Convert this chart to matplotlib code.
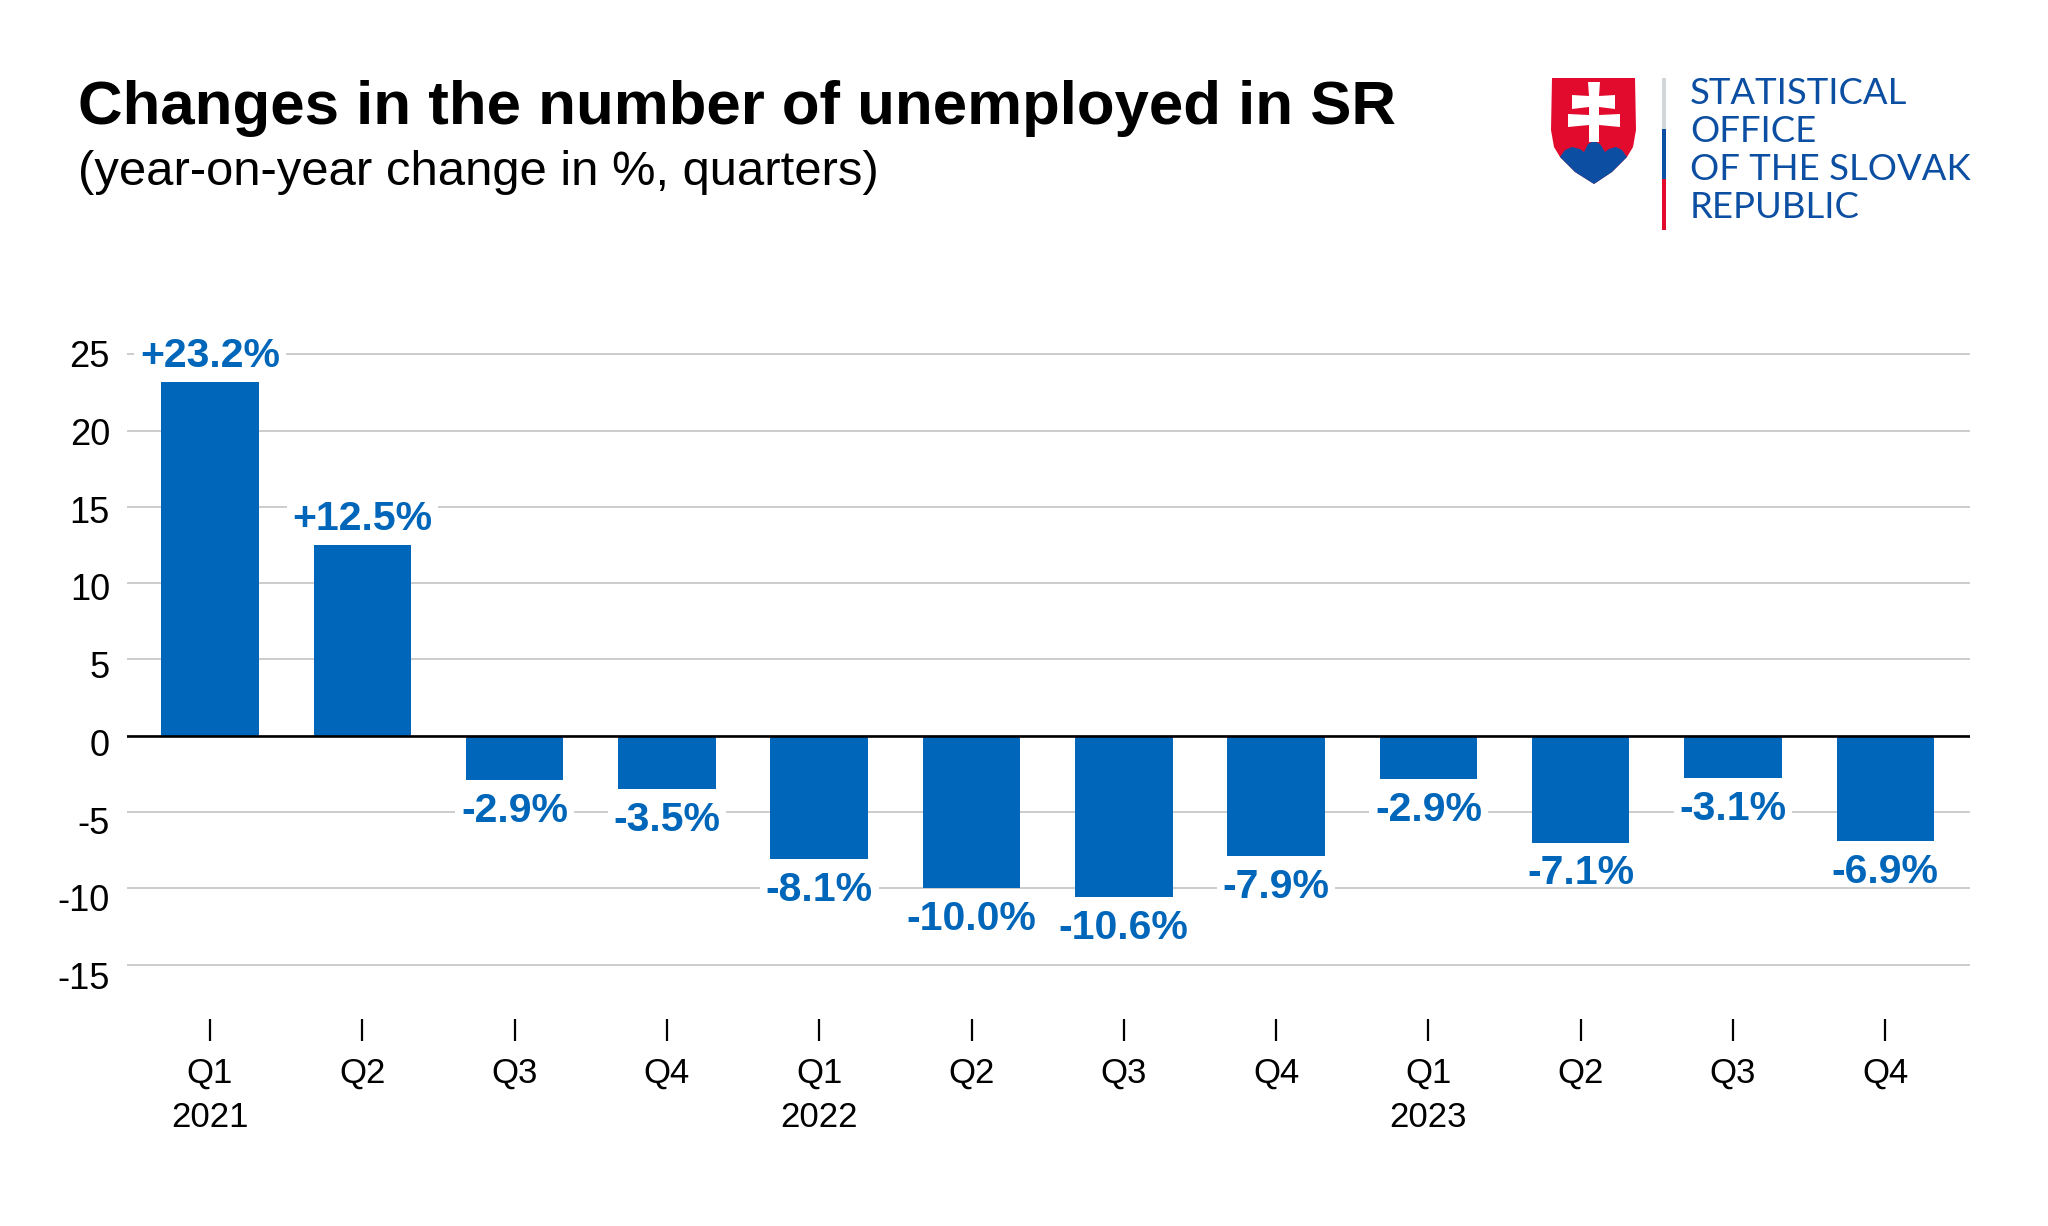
"""Changes in the number of unemployed in SR, quarterly bars with the office logo."""

import matplotlib

matplotlib.use("Agg")
import matplotlib.pyplot as plt
from matplotlib.patches import Polygon, Rectangle
from matplotlib.transforms import Affine2D

plt.rcParams["font.family"] = ["Liberation Sans", "DejaVu Sans"]
plt.rcParams["axes.unicode_minus"] = False

QUARTER_LABELS = [
    "Q1\n2021", "Q2", "Q3", "Q4",
    "Q1\n2022", "Q2", "Q3", "Q4",
    "Q1\n2023", "Q2", "Q3", "Q4",
]
# Bar lengths as drawn; the -3.1% and -7.1% bars stop a little short of their labels.
CHANGES = [23.2, 12.5, -2.9, -3.5, -8.1, -10.0, -10.6, -7.9, -2.85, -7.0, -2.8, -6.9]
VALUE_LABELS = [
    "+23.2%", "+12.5%", "-2.9%", "-3.5%", "-8.1%", "-10.0%",
    "-10.6%", "-7.9%", "-2.9%", "-7.1%", "-3.1%", "-6.9%",
]
Y_TICKS = [25, 20, 15, 10, 5, 0, -5, -10, -15]
LOGO_LINES = ["STATISTICAL", "OFFICE", "OF THE SLOVAK", "REPUBLIC"]

WIDTH, HEIGHT = 2048, 1226
BAR_BLUE = "#0066b9"
LOGO_BLUE = "#0b4ea2"
LOGO_RED = "#e30b2d"

figure = plt.figure(figsize=(WIDTH / 100, HEIGHT / 100), dpi=100)

# Plot area in pixels: gridlines span 127-1970, ticks start just under -18.5.
PX_PER_UNIT = 15.26
ZERO_Y = 735.7
TOP_Y = 340
BOTTOM_Y = 1019
ax = figure.add_axes([
    127.3 / WIDTH,
    1 - BOTTOM_Y / HEIGHT,
    (1970 - 127.3) / WIDTH,
    (BOTTOM_Y - TOP_Y) / HEIGHT,
])
ax.set_xlim(-0.543, 11.556)
ax.set_ylim((ZERO_Y - BOTTOM_Y) / PX_PER_UNIT, (ZERO_Y - TOP_Y) / PX_PER_UNIT)

positions = list(range(len(CHANGES)))
ax.bar(positions, CHANGES, width=0.64, color=BAR_BLUE, zorder=2)
ax.axhline(0, color="black", linewidth=1.9, zorder=3)

ax.set_yticks(Y_TICKS)
ax.grid(True, axis="y", color="#c4c4c4", linewidth=1.2, zorder=1)
ax.set_axisbelow(True)
ax.set_xticks(positions)
ax.set_xticklabels(QUARTER_LABELS, linespacing=1.44)
ax.tick_params(axis="x", length=15.6, width=1.6, color="black", pad=11.5, labelsize=25)
ax.tick_params(axis="y", length=0, pad=12.5, labelsize=26)
for spine in ax.spines.values():
    spine.set_visible(False)

# The y labels in the reference drift slowly below their gridlines.
for value, label in zip(Y_TICKS, ax.get_yticklabels()):
    drift = 0.4 - (25 - value) * 0.28
    label.set_transform(label.get_transform() + Affine2D().translate(0, drift))

for position, value, text in zip(positions, CHANGES, VALUE_LABELS):
    offset = 18.5 if value > 0 else -22
    label = ax.annotate(
        text,
        (position, value),
        xytext=(0, offset),
        textcoords="offset points",
        ha="center",
        va="center",
        fontsize=29.5,
        fontweight="bold",
        color=BAR_BLUE,
        zorder=4,
    )
    # Only labels sitting on a gridline get a white mask behind them.
    centre = value + offset / 0.72 / PX_PER_UNIT
    if min(abs(centre - tick) for tick in Y_TICKS) < 0.85:
        label.set_bbox({"facecolor": "white", "edgecolor": "none", "pad": 4})

figure.text(78 / WIDTH, 1 - 124 / HEIGHT, "Changes in the number of unemployed in SR",
            fontsize=44.5, fontweight="bold", color="black", va="baseline")
figure.text(78 / WIDTH, 1 - 185 / HEIGHT, "(year-on-year change in %, quarters)",
            fontsize=35.3, color="black", va="baseline")

# Logo layer, in pixel coordinates of the reference.
logo = figure.add_axes([0, 0, 1, 1], facecolor="none")
logo.set_xlim(0, WIDTH)
logo.set_ylim(HEIGHT, 0)
logo.axis("off")

shield = [(1552, 78), (1635, 78), (1636, 130), (1633, 147), (1627, 157), (1612, 172),
          (1594, 184), (1575, 172), (1560, 157), (1554, 147), (1551, 130)]
hills = [(1560, 157), (1565, 150), (1572, 147), (1580, 149), (1584, 152), (1588, 144),
         (1594, 141), (1600, 144), (1605, 152), (1609, 149), (1616, 147), (1622, 150),
         (1627, 157), (1612, 172), (1594, 184), (1575, 172)]
cross = [(1588, 82), (1600, 82), (1599, 96), (1615, 95), (1615, 109), (1599, 107),
         (1599, 115), (1620, 114), (1620, 127), (1599, 125), (1599, 142), (1589, 142),
         (1589, 125), (1568, 127), (1568, 114), (1589, 115), (1589, 107), (1572, 109),
         (1572, 95), (1589, 96)]
logo.add_patch(Polygon(shield, closed=True, facecolor=LOGO_RED, edgecolor="none"))
logo.add_patch(Polygon(hills, closed=True, facecolor=LOGO_BLUE, edgecolor="none"))
logo.add_patch(Polygon(cross, closed=True, facecolor="white", edgecolor="none"))

logo.add_patch(Rectangle((1662, 78), 4, 51, facecolor="#d3d6d8", edgecolor="none"))
logo.add_patch(Rectangle((1662, 129), 4, 50, facecolor=LOGO_BLUE, edgecolor="none"))
logo.add_patch(Rectangle((1662, 179), 4, 51, facecolor=LOGO_RED, edgecolor="none"))

for baseline, line in zip([104, 142, 180, 218], LOGO_LINES):
    logo.text(1690, baseline, line, fontsize=26.3, family=["Lato", "DejaVu Sans"],
              color=LOGO_BLUE, va="baseline")

figure.savefig("out.png", dpi=100, facecolor="white")
